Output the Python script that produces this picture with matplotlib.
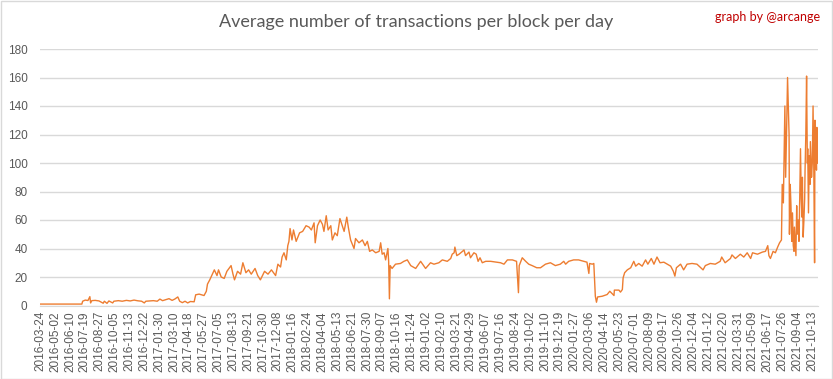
import matplotlib
matplotlib.use("Agg")
import matplotlib.pyplot as plt
import pandas as pd
from matplotlib.patches import Rectangle

title = "Average number of transactions per block per day"
credit = "graph by @arcange"

dates = [
    "2016-03-24", "2016-07-11", "2016-07-13", "2016-07-20", "2016-07-27", "2016-08-01", "2016-08-03",
    "2016-08-06", "2016-08-15", "2016-08-25", "2016-09-05", "2016-09-08", "2016-09-15", "2016-09-20",
    "2016-09-30", "2016-10-03", "2016-10-15", "2016-10-25", "2016-11-05", "2016-11-15", "2016-11-25",
    "2016-12-05", "2016-12-15", "2016-12-22", "2016-12-26", "2017-01-05", "2017-01-15", "2017-01-25",
    "2017-02-01", "2017-02-08", "2017-02-15", "2017-02-25", "2017-03-05", "2017-03-12", "2017-03-20",
    "2017-03-25", "2017-04-01", "2017-04-08", "2017-04-15", "2017-04-22", "2017-05-02", "2017-05-06",
    "2017-05-15", "2017-05-28", "2017-06-03", "2017-06-06", "2017-06-12", "2017-06-19", "2017-06-24",
    "2017-07-01", "2017-07-05", "2017-07-12", "2017-07-20", "2017-07-27", "2017-08-07", "2017-08-12",
    "2017-08-16", "2017-08-24", "2017-09-01", "2017-09-07", "2017-09-15", "2017-09-22", "2017-09-29",
    "2017-10-09", "2017-10-16", "2017-10-23", "2017-11-03", "2017-11-12", "2017-11-21", "2017-12-02",
    "2017-12-08", "2017-12-15", "2017-12-19", "2017-12-24", "2017-12-30", "2018-01-03", "2018-01-06",
    "2018-01-09", "2018-01-14", "2018-01-18", "2018-01-25", "2018-02-03", "2018-02-11", "2018-02-20",
    "2018-02-28", "2018-03-06", "2018-03-13", "2018-03-16", "2018-03-22", "2018-03-29", "2018-04-04",
    "2018-04-08", "2018-04-14", "2018-04-19", "2018-04-26", "2018-04-30", "2018-05-07", "2018-05-13",
    "2018-05-20", "2018-05-26", "2018-05-31", "2018-06-07", "2018-06-11", "2018-06-17", "2018-06-26",
    "2018-06-30", "2018-07-09", "2018-07-18", "2018-07-25", "2018-07-31", "2018-08-06", "2018-08-13",
    "2018-08-22", "2018-08-31", "2018-09-04", "2018-09-08", "2018-09-13", "2018-09-17", "2018-09-23",
    "2018-09-25", "2018-09-27", "2018-09-29", "2018-10-04", "2018-10-13", "2018-10-26", "2018-11-04",
    "2018-11-13", "2018-11-22", "2018-12-05", "2018-12-18", "2018-12-31", "2019-01-13", "2019-01-22",
    "2019-02-04", "2019-02-13", "2019-02-26", "2019-03-07", "2019-03-11", "2019-03-16", "2019-03-18",
    "2019-03-23", "2019-03-29", "2019-04-07", "2019-04-11", "2019-04-15", "2019-04-24", "2019-04-28",
    "2019-05-07", "2019-05-13", "2019-05-18", "2019-05-23", "2019-05-29", "2019-06-07", "2019-06-20",
    "2019-07-03", "2019-07-16", "2019-07-25", "2019-08-03", "2019-08-16", "2019-08-27", "2019-09-01",
    "2019-09-03", "2019-09-11", "2019-09-20", "2019-09-28", "2019-10-07", "2019-10-19", "2019-10-29",
    "2019-11-11", "2019-11-24", "2019-12-07", "2019-12-20", "2019-12-29", "2020-01-03", "2020-01-11",
    "2020-01-24", "2020-02-06", "2020-02-20", "2020-02-28", "2020-03-04", "2020-03-06", "2020-03-13",
    "2020-03-17", "2020-03-21", "2020-03-24", "2020-03-27", "2020-04-08", "2020-04-21", "2020-04-28",
    "2020-05-09", "2020-05-10", "2020-05-22", "2020-05-26", "2020-05-31", "2020-06-02", "2020-06-06",
    "2020-06-13", "2020-06-22", "2020-06-30", "2020-07-05", "2020-07-13", "2020-07-22", "2020-07-31",
    "2020-08-06", "2020-08-15", "2020-08-22", "2020-08-30", "2020-09-07", "2020-09-17", "2020-09-26",
    "2020-10-05", "2020-10-12", "2020-10-16", "2020-10-20", "2020-10-31", "2020-11-08", "2020-11-17",
    "2020-11-30", "2020-12-13", "2020-12-29", "2021-01-04", "2021-01-17", "2021-01-30", "2021-02-12",
    "2021-02-16", "2021-02-25", "2021-03-11", "2021-03-15", "2021-03-24", "2021-04-06", "2021-04-15",
    "2021-04-24", "2021-05-03", "2021-05-08", "2021-05-21", "2021-06-03", "2021-06-11", "2021-06-17",
    "2021-06-20", "2021-06-24", "2021-07-01", "2021-07-07", "2021-07-13", "2021-07-18", "2021-07-23",
    "2021-07-25", "2021-07-28", "2021-07-30", "2021-08-01", "2021-08-03", "2021-08-05", "2021-08-06",
    "2021-08-08", "2021-08-10", "2021-08-12", "2021-08-13", "2021-08-15", "2021-08-17", "2021-08-19",
    "2021-08-21", "2021-08-23", "2021-08-25", "2021-08-26", "2021-08-28", "2021-08-30", "2021-09-01",
    "2021-09-02", "2021-09-05", "2021-09-07", "2021-09-09", "2021-09-11", "2021-09-13", "2021-09-15",
    "2021-09-16", "2021-09-18", "2021-09-20", "2021-09-22", "2021-09-23", "2021-09-25", "2021-09-27",
    "2021-09-29", "2021-09-30", "2021-10-02", "2021-10-04", "2021-10-06", "2021-10-07", "2021-10-10",
    "2021-10-12", "2021-10-14", "2021-10-16", "2021-10-18", "2021-10-19", "2021-10-21", "2021-10-23",
    "2021-10-24", "2021-10-26",
]

values = [
    1.0, 1.0, 3.0, 3.8, 3.5, 6.2, 1.8,
    3.4, 3.6, 3.2, 1.6, 3.0, 1.5, 3.2,
    1.8, 3.0, 3.4, 3.0, 3.6, 3.2, 3.8,
    3.3, 3.0, 1.8, 3.0, 3.2, 3.4, 3.0,
    4.5, 3.4, 4.0, 4.8, 3.6, 4.5, 6.0,
    3.0, 2.0, 3.0, 1.8, 2.8, 2.6, 7.5,
    8.0, 7.0, 10.0, 15.0, 18.0, 22.0, 25.0,
    21.0, 25.0, 20.0, 19.0, 24.0, 28.0, 22.0,
    18.0, 24.0, 22.0, 30.0, 23.0, 25.0, 22.0,
    26.0, 21.0, 18.0, 24.0, 22.0, 25.0, 21.0,
    29.0, 27.0, 34.0, 37.0, 32.0, 42.0, 45.0,
    54.0, 46.0, 53.0, 45.0, 51.0, 52.0, 56.0,
    55.0, 53.0, 58.0, 44.0, 56.0, 60.0, 57.0,
    52.0, 63.0, 53.0, 56.0, 46.0, 51.0, 49.0,
    61.0, 56.0, 52.0, 62.0, 55.0, 46.0, 40.0,
    47.0, 44.0, 46.0, 42.0, 45.0, 38.0, 39.0,
    37.0, 38.0, 44.0, 36.0, 37.0, 32.0, 40.0,
    31.0, 4.7, 28.0, 26.0, 29.0, 29.5, 31.0,
    32.0, 28.0, 26.0, 31.0, 26.0, 30.0, 29.0,
    30.0, 32.0, 31.0, 33.0, 36.0, 37.0, 41.0,
    35.0, 36.0, 38.0, 39.0, 35.0, 37.5, 33.5,
    37.0, 36.0, 31.0, 33.5, 30.0, 31.0, 31.0,
    30.5, 30.0, 29.0, 32.0, 32.0, 31.0, 9.0,
    28.0, 33.5, 31.0, 29.0, 28.0, 26.5, 26.5,
    29.0, 30.0, 28.0, 29.0, 31.0, 29.0, 31.0,
    32.0, 32.0, 31.0, 30.4, 22.5, 29.5, 29.0,
    29.5, 6.5, 2.3, 6.0, 6.5, 7.7, 10.0,
    7.0, 10.8, 10.8, 9.4, 11.2, 19.4, 23.0,
    25.0, 26.5, 31.0, 27.6, 29.5, 27.6, 32.0,
    29.0, 33.0, 29.0, 34.0, 30.0, 30.4, 29.0,
    27.6, 24.0, 20.6, 26.5, 29.0, 25.0, 29.0,
    29.5, 29.0, 25.0, 28.0, 29.5, 29.0, 31.0,
    34.0, 30.0, 33.0, 35.5, 33.0, 36.0, 34.0,
    37.0, 33.0, 37.0, 36.0, 37.5, 38.0, 42.0,
    35.0, 33.0, 38.0, 37.0, 41.0, 44.0, 46.0,
    85.0, 72.0, 105.0, 140.0, 90.0, 115.0, 130.0,
    160.0, 140.0, 120.0, 50.0, 85.0, 70.0, 45.0,
    65.0, 42.0, 38.0, 55.0, 45.0, 35.0, 70.0,
    50.0, 60.0, 45.0, 75.0, 110.0, 75.0, 62.0,
    90.0, 48.0, 60.0, 75.0, 95.0, 120.0, 161.0,
    100.0, 110.0, 65.0, 105.0, 85.0, 115.0, 90.0,
    100.0, 140.0, 95.0, 30.0, 130.0, 115.0, 95.0,
    125.0, 100.0,
]

tick_labels = [
    "2016-03-24", "2016-05-02", "2016-06-10", "2016-07-19", "2016-08-27", "2016-10-05", "2016-11-13",
    "2016-12-22", "2017-01-30", "2017-03-10", "2017-04-18", "2017-05-27", "2017-07-05", "2017-08-13",
    "2017-09-21", "2017-10-30", "2017-12-08", "2018-01-16", "2018-02-24", "2018-04-04", "2018-05-13",
    "2018-06-21", "2018-07-30", "2018-09-07", "2018-10-16", "2018-11-24", "2019-01-02", "2019-02-10",
    "2019-03-21", "2019-04-29", "2019-06-07", "2019-07-16", "2019-08-24", "2019-10-02", "2019-11-10",
    "2019-12-19", "2020-01-27", "2020-03-06", "2020-04-14", "2020-05-23", "2020-07-01", "2020-08-09",
    "2020-09-17", "2020-10-26", "2020-12-04", "2021-01-12", "2021-02-20", "2021-03-31", "2021-05-09",
    "2021-06-17", "2021-07-26", "2021-09-04", "2021-10-13",
]
y_ticks = [0, 20, 40, 60, 80, 100, 120, 140, 160, 180]

W, H = 833, 379
fig = plt.figure(figsize=(W / 100, H / 100), dpi=100)
ax = fig.add_axes([40 / W, 1 - 305.5 / H, (818 - 40) / W, (305.5 - 49) / H])

x = pd.to_datetime(dates)
ax.plot(x, values, color="#ED7D31", lw=1.0)

ax.set_ylim(0, 180)
ax.set_yticks(y_ticks)
ax.set_xlim(pd.Timestamp("2016-03-23"), pd.Timestamp("2021-10-27"))
ax.set_xticks(pd.to_datetime(tick_labels))
ax.set_xticklabels(tick_labels, rotation=90, fontsize=8.5, color="#595959", family="Liberation Sans")
for lbl in ax.get_yticklabels():
    lbl.set_fontsize(8.5)
    lbl.set_color("#595959")
    lbl.set_family("Liberation Sans")
ax.tick_params(axis="both", length=0)
ax.tick_params(axis="y", pad=9)
ax.tick_params(axis="x", pad=4)
ax.grid(axis="y", color="#D9D9D9", lw=1)
ax.set_axisbelow(True)
for s in ["top", "right", "left"]:
    ax.spines[s].set_visible(False)
ax.spines["bottom"].set_color("#D9D9D9")

fig.text(0.5, 1 - 22 / H, title, ha="center", va="center", fontsize=13, color="#595959",
         family="Lato")
fig.text(820 / W, 1 - 17 / H, credit, ha="right", va="center", fontsize=9, color="#C00000", family="Lato")

fig.patches.append(Rectangle((0.5 / W, 0.5 / H), 1 - 1.5 / W, 1 - 1.5 / H, transform=fig.transFigure,
                             fill=False, edgecolor="#D9D9D9", lw=1))

fig.savefig("out.png", dpi=100)
